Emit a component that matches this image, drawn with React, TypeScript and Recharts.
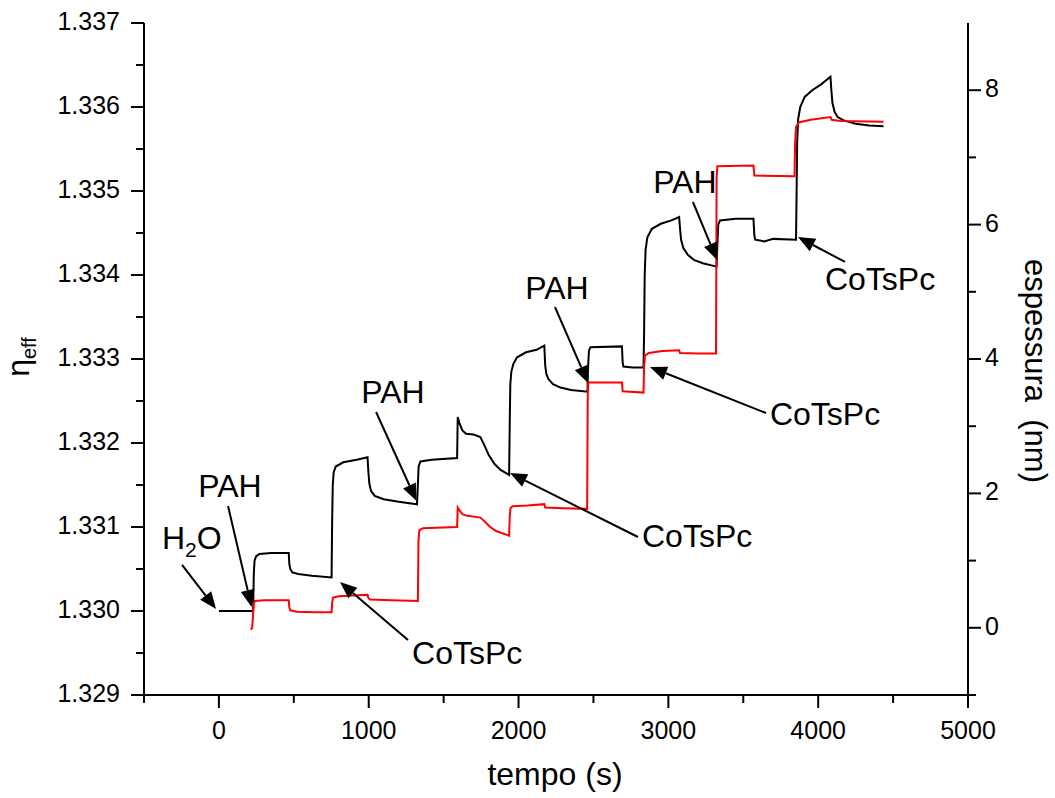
import React from 'react';
import { LineChart, Line, XAxis, YAxis, ReferenceLine, ReferenceDot } from 'recharts';

const FONT = '"Liberation Sans", Arial, Helvetica, sans-serif';

// ---- black series: effective index (left axis) ----
const blackTime = [
  0, 120, 228,
  233, 238, 248, 270, 350, 466,
  470, 476, 490, 530, 620, 752,
  756, 760, 766, 780, 830, 920, 992,
  998, 1004, 1015, 1040, 1100, 1200, 1322,
  1328, 1333, 1345, 1420, 1590,
  1594, 1605, 1625, 1650, 1700, 1745, 1770, 1800, 1840, 1880, 1937,
  1941, 1945, 1952, 1965, 1990, 2050, 2120, 2172,
  2178, 2186, 2200, 2230, 2280, 2350, 2460,
  2464, 2470, 2480, 2690,
  2695, 2700, 2760, 2834,
  2838, 2842, 2848, 2860, 2890, 2950, 3020, 3072,
  3078, 3085, 3100, 3130, 3170, 3230, 3322,
  3328, 3333, 3345, 3450, 3568,
  3574, 3580, 3640, 3700, 3852,
  3856, 3860, 3866, 3880, 3910, 3960, 4020, 4082,
  4088, 4095, 4110, 4130, 4170, 4250, 4340, 4436,
];
const blackEta = [
  1.33000, 1.33000, 1.33000,
  1.33045, 1.33060, 1.33065, 1.33068, 1.33069, 1.33069,
  1.33056, 1.33050, 1.33046, 1.33044, 1.33042, 1.33040,
  1.33110, 1.33150, 1.33165, 1.33172, 1.33177, 1.33180, 1.33183,
  1.33165, 1.33152, 1.33143, 1.33137, 1.33133, 1.33130, 1.33127,
  1.33150, 1.33172, 1.33178, 1.33180, 1.33182,
  1.33231, 1.33224, 1.33215, 1.33211, 1.33210, 1.33207, 1.33198, 1.33186, 1.33175, 1.33168, 1.33162,
  1.33220, 1.33270, 1.33285, 1.33294, 1.33302, 1.33308, 1.33311, 1.33316,
  1.33292, 1.33282, 1.33276, 1.33270, 1.33266, 1.33263, 1.33261,
  1.33290, 1.33310, 1.33314, 1.33315,
  1.33296, 1.33291, 1.33290, 1.33290,
  1.33330, 1.33400, 1.33430, 1.33445, 1.33455, 1.33461, 1.33465, 1.33469,
  1.33455, 1.33442, 1.33432, 1.33424, 1.33418, 1.33414, 1.33410,
  1.33440, 1.33460, 1.33465, 1.33467, 1.33467,
  1.33447, 1.33442, 1.33440, 1.33443, 1.33442,
  1.33500, 1.33560, 1.33585, 1.33600, 1.33612, 1.33620, 1.33627, 1.33636,
  1.33620, 1.33605, 1.33594, 1.33588, 1.33584, 1.33580, 1.33578, 1.33577,
];

// ---- red series: thickness in nm (right axis) ----
const redTime = [
  213, 222, 228, 233, 240, 300, 466,
  470, 476, 520, 640, 752,
  756, 762, 800, 900, 992,
  998, 1010, 1150, 1328,
  1332, 1338, 1360, 1590,
  1594, 1605, 1625, 1650, 1745, 1775, 1810, 1850, 1937,
  1941, 1946, 1960, 2060, 2172,
  2178, 2300, 2458,
  2462, 2466, 2690,
  2695, 2834,
  2838, 2844, 2870, 2960, 3072,
  3078, 3200, 3318,
  3322, 3327, 3568,
  3574, 3842,
  3846, 3852, 3870, 3950, 4082,
  4090, 4150, 4436,
];
const redThickness = [
  -0.03, 0.00, 0.20, 0.36, 0.40, 0.41, 0.41,
  0.30, 0.26, 0.24, 0.23, 0.23,
  0.38, 0.45, 0.47, 0.48, 0.49,
  0.44, 0.42, 0.41, 0.40,
  1.30, 1.45, 1.48, 1.50,
  1.79, 1.75, 1.69, 1.67, 1.64, 1.58, 1.50, 1.44, 1.37,
  1.65, 1.78, 1.81, 1.82, 1.84,
  1.79, 1.78, 1.77,
  3.50, 3.65, 3.65,
  3.52, 3.50,
  3.90, 4.05, 4.09, 4.12, 4.13,
  4.09, 4.08, 4.08,
  6.70, 6.87, 6.88,
  6.73, 6.72,
  7.20, 7.45, 7.52, 7.56, 7.60,
  7.56, 7.54, 7.53,
];

// ---- ticks ----
const xTicks = [-500, 0, 500, 1000, 1500, 2000, 2500, 3000, 3500, 4000, 4500, 5000];
const xLabelTicks = [0, 1000, 2000, 3000, 4000, 5000];
const leftTicks = [1.329, 1.3295, 1.33, 1.3305, 1.331, 1.3315, 1.332, 1.3325, 1.333, 1.3335, 1.334, 1.3345, 1.335, 1.3355, 1.336, 1.3365, 1.337];
const leftLabelTicks = [1.329, 1.33, 1.331, 1.332, 1.333, 1.334, 1.335, 1.336, 1.337];
const rightTicks = [-1, 0, 1, 2, 3, 4, 5, 6, 7, 8];
const rightLabelTicks = [0, 2, 4, 6, 8];

// ---- annotations (data coordinates on the left axis) ----
const arrowTail = [
  { t: -246, eta: 1.330548 },
  { t: 61, eta: 1.33125 },
  { t: 1262, eta: 1.329655 },
  { t: 1049, eta: 1.332369 },
  { t: 2797, eta: 1.330881 },
  { t: 2243, eta: 1.333619 },
  { t: 3652, eta: 1.332357 },
  { t: 3164, eta: 1.334869 },
  { t: 4179, eta: 1.334155 },
];
const arrowTip = [
  { t: -19, eta: 1.330024 },
  { t: 218, eta: 1.330048 },
  { t: 808, eta: 1.330345 },
  { t: 1319, eta: 1.33131 },
  { t: 1943, eta: 1.331643 },
  { t: 2464, eta: 1.332714 },
  { t: 2877, eta: 1.332905 },
  { t: 3325, eta: 1.334179 },
  { t: 3865, eta: 1.334452 },
];
const labelText = ['H2O', 'PAH', 'CoTsPc', 'PAH', 'CoTsPc', 'PAH', 'CoTsPc', 'PAH', 'CoTsPc'];
const labelAnchor = ['start', 'middle', 'start', 'middle', 'start', 'middle', 'start', 'middle', 'start'];
const labelPos = [
  { t: -380, eta: 1.330738 },
  { t: 74, eta: 1.331357 },
  { t: 1289, eta: 1.329369 },
  { t: 1162, eta: 1.332476 },
  { t: 2824, eta: 1.330762 },
  { t: 2256, eta: 1.333714 },
  { t: 3678, eta: 1.332214 },
  { t: 3110, eta: 1.334976 },
  { t: 4045, eta: 1.333821 },
];

const blackData = blackTime.map((t, i) => ({ t, eta: blackEta[i] }));
const redData = redTime.map((t, i) => ({ t, nm: redThickness[i] }));

const near = (list: number[], v: number) => list.some((a) => Math.abs(a - v) < 1e-7);

const XTick = (p: any) => {
  const { x, y, payload } = p;
  const v = payload.value;
  const major = near(xLabelTicks, v);
  return (
    <g>
      <line x1={x} x2={x} y1={y} y2={y + (major ? 13 : 8)} stroke="#000" strokeWidth={2} />
      {major && (
        <text x={x} y={y + 44} textAnchor="middle" fontSize={25} fontFamily={FONT} fill="#000">
          {v}
        </text>
      )}
    </g>
  );
};

const LeftTick = (p: any) => {
  const { x, y, payload } = p;
  const v = payload.value;
  const major = near(leftLabelTicks, v);
  return (
    <g>
      <line x1={x - (major ? 13 : 8)} x2={x} y1={y} y2={y} stroke="#000" strokeWidth={2} />
      {major && (
        <text x={x - 24} y={y + 7} textAnchor="end" fontSize={25} fontFamily={FONT} fill="#000">
          {v.toFixed(3)}
        </text>
      )}
    </g>
  );
};

const RightTick = (p: any) => {
  const { x, y, payload } = p;
  const v = payload.value;
  const major = near(rightLabelTicks, v);
  return (
    <g>
      <line x1={x} x2={x + (major ? 13 : 8)} y1={y} y2={y} stroke="#000" strokeWidth={2} />
      {major && (
        <text x={x + 17} y={y + 7} textAnchor="start" fontSize={25} fontFamily={FONT} fill="#000">
          {v}
        </text>
      )}
    </g>
  );
};

const ArrowShape = (p: any) => {
  const { x1, y1, x2, y2 } = p;
  const dx = x2 - x1;
  const dy = y2 - y1;
  const len = Math.hypot(dx, dy) || 1;
  const ux = dx / len;
  const uy = dy / len;
  const L = 17;
  const W = 7;
  const bx = x2 - ux * L;
  const by = y2 - uy * L;
  return (
    <g>
      <line x1={x1} y1={y1} x2={bx} y2={by} stroke="#000" strokeWidth={2} />
      <polygon points={`${x2},${y2} ${bx - uy * W},${by + ux * W} ${bx + uy * W},${by - ux * W}`} fill="#000" />
    </g>
  );
};

const makeLabelShape = (text: string, anchor: string) => (p: any) => {
  const { cx, cy } = p;
  if (text === 'H2O') {
    return (
      <text x={cx} y={cy} textAnchor="start" fontSize={32} fontFamily={FONT} fill="#000">
        H
        <tspan fontSize={21} dy={8}>2</tspan>
        <tspan fontSize={32} dy={-8}>O</tspan>
      </text>
    );
  }
  return (
    <text x={cx} y={cy} textAnchor={anchor as any} fontSize={32} fontFamily={FONT} fill="#000">
      {text}
    </text>
  );
};

const LeftTitle = (p: any) => {
  const vb = p.viewBox || { x: 0, y: 23, width: 144, height: 672 };
  const cx = 29;
  const cy = vb.y + vb.height / 2 - 2;
  return (
    <text x={cx} y={cy} transform={`rotate(-90, ${cx}, ${cy})`} textAnchor="middle" fontSize={32} fontFamily={FONT} fill="#000">
      η<tspan fontSize={20} dy={7}>eff</tspan>
    </text>
  );
};

const RightTitle = (p: any) => {
  const vb = p.viewBox || { x: 968, y: 23, width: 87, height: 672 };
  const cx = 1025;
  const cy = vb.y + vb.height / 2 + 12;
  return (
    <text x={cx} y={cy} transform={`rotate(90, ${cx}, ${cy})`} textAnchor="middle" fontSize={31} fontFamily={FONT} fill="#000" style={{ whiteSpace: 'pre' }}>
      {'espessura\u00A0\u00A0(nm)'}
    </text>
  );
};

const BottomTitle = (p: any) => {
  const vb = p.viewBox || { x: 144, y: 695, width: 824, height: 103 };
  const cx = vb.x + vb.width / 2 - 1;
  return (
    <text x={cx} y={785} textAnchor="middle" fontSize={32} fontFamily={FONT} fill="#000">
      tempo (s)
    </text>
  );
};

export default function App() {
  return (
    <div style={{ position: 'absolute', left: 0, top: 0, width: 1055, height: 798, background: '#fff' }}>
      <LineChart width={1055} height={798} margin={{ top: 23, right: 0, bottom: 0, left: 0 }}>
        <XAxis
          xAxisId={0}
          dataKey="t"
          type="number"
          domain={[-500, 5000]}
          ticks={xTicks}
          allowDataOverflow
          height={103}
          tickSize={0}
          tickMargin={0}
          tickLine={false}
          tick={<XTick />}
          axisLine={{ stroke: '#000', strokeWidth: 2 }}
          interval={0}
          label={{ content: <BottomTitle /> }}
        />
        <XAxis
          xAxisId="top"
          orientation="top"
          type="number"
          domain={[-500, 5000]}
          height={0}
          tick={false}
          tickLine={false}
          axisLine={{ stroke: '#000', strokeWidth: 2 }}
        />
        <YAxis
          yAxisId="left"
          type="number"
          domain={[1.329, 1.337]}
          ticks={leftTicks}
          allowDataOverflow
          width={144}
          tickSize={0}
          tickMargin={0}
          tickLine={false}
          tick={<LeftTick />}
          axisLine={{ stroke: '#000', strokeWidth: 2 }}
          interval={0}
          label={{ content: <LeftTitle /> }}
        />
        <YAxis
          yAxisId="right"
          orientation="right"
          type="number"
          domain={[-1, 9]}
          ticks={rightTicks}
          allowDataOverflow
          width={87}
          tickSize={0}
          tickMargin={0}
          tickLine={false}
          tick={<RightTick />}
          axisLine={{ stroke: '#000', strokeWidth: 2 }}
          interval={0}
          label={{ content: <RightTitle /> }}
        />
        <Line
          data={blackData}
          dataKey="eta"
          yAxisId="left"
          type="linear"
          stroke="#000"
          strokeWidth={2}
          dot={false}
          isAnimationActive={false}
        />
        <Line
          data={redData}
          dataKey="nm"
          yAxisId="right"
          type="linear"
          stroke="#ff0000"
          strokeWidth={2}
          dot={false}
          isAnimationActive={false}
        />
        {arrowTail.map((a, i) => (
          <ReferenceLine
            key={`arrow-${i}`}
            yAxisId="left"
            ifOverflow="visible"
            segment={[
              { x: a.t, y: a.eta },
              { x: arrowTip[i].t, y: arrowTip[i].eta },
            ]}
            shape={ArrowShape}
          />
        ))}
        {labelPos.map((l, i) => (
          <ReferenceDot
            key={`label-${i}`}
            yAxisId="left"
            x={l.t}
            y={l.eta}
            ifOverflow="visible"
            shape={makeLabelShape(labelText[i], labelAnchor[i])}
          />
        ))}
      </LineChart>
    </div>
  );
}
